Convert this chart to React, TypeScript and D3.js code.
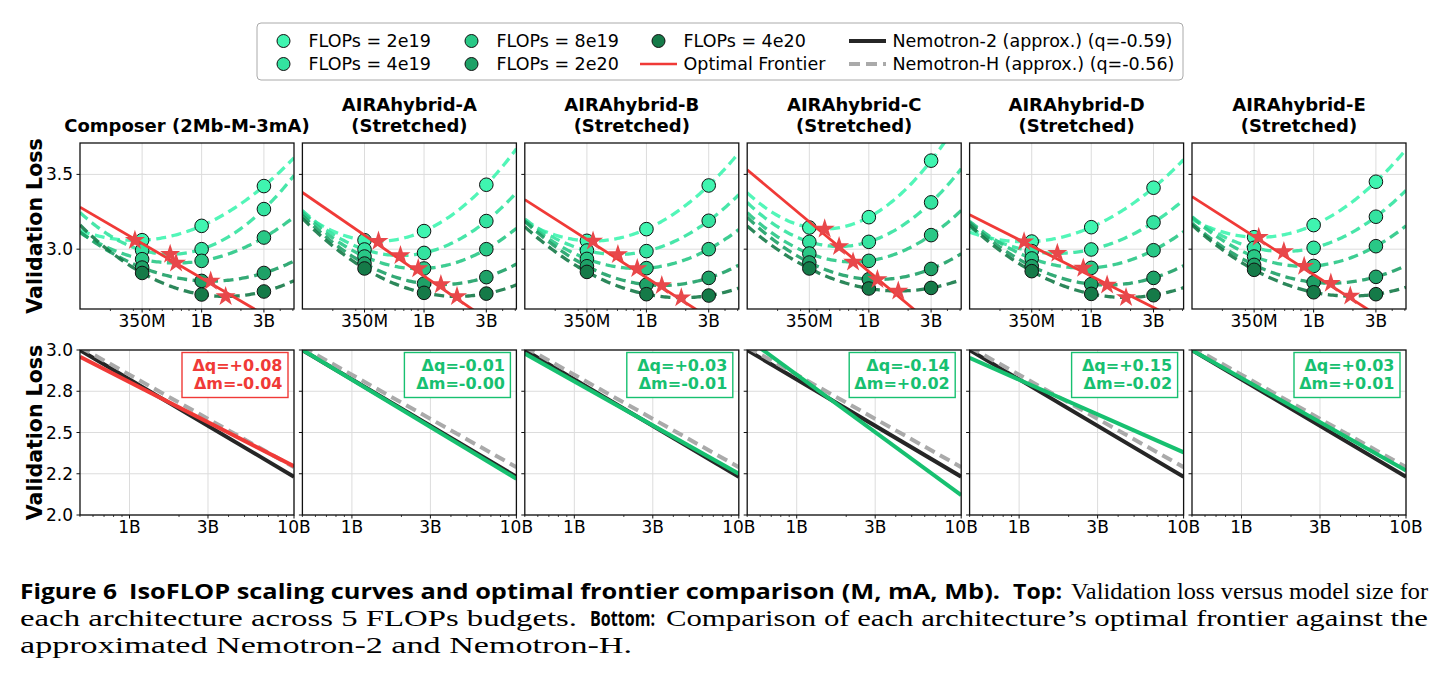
import React from "react";
import * as d3 from "d3";

// ---- data ----
const budgetLabels = ["FLOPs = 2e19", "FLOPs = 4e19", "FLOPs = 8e19", "FLOPs = 2e20", "FLOPs = 4e20"];
const budgetColors = ["#3ff5b0", "#34e3a0", "#29c886", "#1ea167", "#157a48"];
const modelSizes = [3.5e8, 1e9, 3e9];

const panelTitles = [
  ["Composer (2Mb-M-3mA)"],
  ["AIRAhybrid-A", "(Stretched)"],
  ["AIRAhybrid-B", "(Stretched)"],
  ["AIRAhybrid-C", "(Stretched)"],
  ["AIRAhybrid-D", "(Stretched)"],
  ["AIRAhybrid-E", "(Stretched)"],
];

// validation loss per budget (rows) at 350M, 1B, 3B (cols)
const composerLoss = [
  [3.06, 3.156, 3.422],
  [2.993, 3.0, 3.268],
  [2.933, 2.922, 3.078],
  [2.877, 2.788, 2.841],
  [2.841, 2.697, 2.717],
];
const hybridALoss = [
  [3.06, 3.121, 3.431],
  [2.998, 2.975, 3.188],
  [2.951, 2.871, 3.0],
  [2.904, 2.77, 2.813],
  [2.871, 2.708, 2.703],
];
const hybridBLoss = [
  [3.056, 3.134, 3.426],
  [2.991, 2.987, 3.19],
  [2.935, 2.873, 3.0],
  [2.886, 2.763, 2.808],
  [2.848, 2.699, 2.69],
];
const hybridCLoss = [
  [3.145, 3.214, 3.592],
  [3.049, 3.049, 3.313],
  [2.971, 2.922, 3.094],
  [2.911, 2.799, 2.868],
  [2.871, 2.737, 2.741],
];
const hybridDLoss = [
  [3.051, 3.147, 3.411],
  [2.987, 2.998, 3.179],
  [2.938, 2.875, 2.993],
  [2.886, 2.766, 2.808],
  [2.853, 2.701, 2.692],
];
const hybridELoss = [
  [3.08, 3.161, 3.451],
  [3.009, 3.009, 3.217],
  [2.951, 2.888, 3.02],
  [2.895, 2.779, 2.815],
  [2.862, 2.712, 2.699],
];
const panelLoss = [composerLoss, hybridALoss, hybridBLoss, hybridCLoss, hybridDLoss, hybridELoss];

// optimal frontier: loss = at1B + q * log10(N / 1B)
const frontierQ = [-0.51, -0.6, -0.56, -0.73, -0.44, -0.56];
const frontierAt1B = [2.806, 2.82, 2.81, 2.85, 2.82, 2.83];
const deltaQLabels = ["Δq=+0.08", "Δq=-0.01", "Δq=+0.03", "Δq=-0.14", "Δq=+0.15", "Δq=+0.03"];
const deltaMLabels = ["Δm=-0.04", "Δm=-0.00", "Δm=-0.01", "Δm=+0.02", "Δm=-0.02", "Δm=+0.01"];
const nemotron2 = { q: -0.59, at1B: 2.822 };
const nemotronH = { q: -0.56, at1B: 2.85 };

const topXTicks = [3.5e8, 1e9, 3e9];
const topXTickLabels = ["350M", "1B", "3B"];
const topYTicks = [3.0, 3.5];
const topYTickLabels = ["3.0", "3.5"];
const botXTicks = [1e9, 3e9, 1e10];
const botXTickLabels = ["1B", "3B", "10B"];
const botYTicks = [2.0, 2.25, 2.5, 2.75, 3.0];
const botYTickLabels = ["2.0", "2.2", "2.5", "2.8", "3.0"];

// ---- layout ----
const W = 1444;
const H = 683;
const PX0 = 80;
const PW = 214;
const STEP = 222.4;
const TOP_Y = 143;
const TH = 166;
const BOT_Y = 350;
const BH = 165;

const RED = "#f03a37";
const STAR = "#e8474a";
const GREEN = "#17c070";
const BLACK = "#262626";
const GRAY = "#aaaaaa";
const FONT = "DejaVu Sans";

const xTop = d3.scaleLog().domain([1.17e8, 5.1e9]).range([0, PW]);
const yTop = d3.scaleLinear().domain([2.6, 3.71]).range([TH, 0]);
const xBot = d3.scaleLog().domain([5e8, 1e10]).range([0, PW]);
const yBot = d3.scaleLinear().domain([2.0, 3.0]).range([BH, 0]);

// quadratic through the three points in log10(N)
function quadFit(us: number[], ys: number[]) {
  const s1 = (ys[1] - ys[0]) / (us[1] - us[0]);
  const s2 = (ys[2] - ys[1]) / (us[2] - us[1]);
  const a = (s2 - s1) / (us[2] - us[0]);
  const b = s1 - a * (us[0] + us[1]);
  const c = ys[0] - a * us[0] * us[0] - b * us[0];
  return { a, b, c };
}

function minorTicks(scale: d3.ScaleLogarithmic<number, number>, majors: number[]) {
  const [lo, hi] = scale.domain();
  const out: number[] = [];
  for (let k = 8; k <= 10; k++) {
    for (let m = 1; m <= 9; m++) {
      const v = m * Math.pow(10, k);
      if (v >= lo && v <= hi && !majors.some((t) => Math.abs(t - v) / v < 1e-6)) out.push(v);
    }
  }
  return out;
}

const topMinor = minorTicks(xTop, topXTicks);
const botMinor = minorTicks(xBot, botXTicks);

const uTop = xTop.domain().map(Math.log10);
const curveUs = d3.range(0, 121).map((k) => uTop[0] + ((uTop[1] - uTop[0]) * k) / 120);

const starPath = d3.symbol().type(d3.symbolStar).size(125)() as string;

const topLine = d3
  .line<[number, number]>()
  .x((d) => xTop(Math.pow(10, d[0])))
  .y((d) => yTop(d[1]));
const botLine = d3
  .line<[number, number]>()
  .x((d) => xBot(Math.pow(10, d[0])))
  .y((d) => yBot(d[1]));

function frontierPts(q: number, at1B: number, dom: number[]): [number, number][] {
  const u0 = Math.log10(dom[0]);
  const u1 = Math.log10(dom[1]);
  return [
    [u0, at1B + q * (u0 - 9)],
    [u1, at1B + q * (u1 - 9)],
  ];
}

const TopPanel = ({ i }: { i: number }) => {
  const px = PX0 + i * STEP;
  const us = modelSizes.map(Math.log10);
  const fits = panelLoss[i].map((row) => quadFit(us, row));
  return (
    <g transform={`translate(${px},${TOP_Y})`}>
      <defs>
        <clipPath id={`clipTop${i}`}>
          <rect x={0} y={0} width={PW} height={TH} />
        </clipPath>
      </defs>
      {topXTicks.map((t) => (
        <line key={t} x1={xTop(t)} x2={xTop(t)} y1={0} y2={TH} stroke="#dcdcdc" strokeWidth={1} />
      ))}
      {topYTicks.map((t) => (
        <line key={t} x1={0} x2={PW} y1={yTop(t)} y2={yTop(t)} stroke="#dcdcdc" strokeWidth={1} />
      ))}
      <g clipPath={`url(#clipTop${i})`}>
        {fits.map((f, b) => (
          <path
            key={b}
            d={topLine(curveUs.map((u) => [u, f.a * u * u + f.b * u + f.c]))!}
            fill="none"
            stroke={budgetColors[b]}
            strokeWidth={3.3}
            strokeDasharray="10,5.5"
            opacity={0.9}
          />
        ))}
        {panelLoss[i].map((row, b) =>
          row.map((v, k) => (
            <circle
              key={`${b}-${k}`}
              cx={xTop(modelSizes[k])}
              cy={yTop(v)}
              r={6.8}
              fill={budgetColors[b]}
              stroke="#111"
              strokeWidth={1}
            />
          ))
        )}
        <path
          d={topLine(frontierPts(frontierQ[i], frontierAt1B[i], xTop.domain()))!}
          stroke={RED}
          strokeWidth={2.8}
          fill="none"
        />
        {fits.map((f, b) => {
          const uv = -f.b / (2 * f.a);
          const lv = f.c - (f.b * f.b) / (4 * f.a);
          return (
            <path
              key={b}
              d={starPath}
              transform={`translate(${xTop(Math.pow(10, uv))},${yTop(lv)})`}
              fill={STAR}
            />
          );
        })}
      </g>
      <rect x={0} y={0} width={PW} height={TH} fill="none" stroke="#111" strokeWidth={1.3} />
      {topMinor.map((t) => (
        <line key={t} x1={xTop(t)} x2={xTop(t)} y1={TH} y2={TH + 2} stroke="#111" strokeWidth={0.8} />
      ))}
      {topXTicks.map((t, k) => (
        <g key={t}>
          <line x1={xTop(t)} x2={xTop(t)} y1={TH} y2={TH + 3.5} stroke="#111" strokeWidth={1} />
          <text x={xTop(t)} y={TH + 17.5} textAnchor="middle" fontFamily={FONT} fontSize={17}>
            {topXTickLabels[k]}
          </text>
        </g>
      ))}
      {topYTicks.map((t, k) => (
        <g key={t}>
          <line x1={-3.5} x2={0} y1={yTop(t)} y2={yTop(t)} stroke="#111" strokeWidth={1} />
          {i === 0 && (
            <text x={-7} y={yTop(t) + 6} textAnchor="end" fontFamily={FONT} fontSize={17}>
              {topYTickLabels[k]}
            </text>
          )}
        </g>
      ))}
      {panelTitles[i].length === 1 ? (
        <text x={PW / 2} y={-11} textAnchor="middle" fontFamily={FONT} fontWeight="bold" fontSize={18}>
          {panelTitles[i][0]}
        </text>
      ) : (
        <text textAnchor="middle" fontFamily={FONT} fontWeight="bold" fontSize={18}>
          <tspan x={PW / 2} y={-32}>
            {panelTitles[i][0]}
          </tspan>
          <tspan x={PW / 2} y={-11}>
            {panelTitles[i][1]}
          </tspan>
        </text>
      )}
    </g>
  );
};

const BottomPanel = ({ i }: { i: number }) => {
  const px = PX0 + i * STEP;
  const col = i === 0 ? RED : GREEN;
  return (
    <g transform={`translate(${px},${BOT_Y})`}>
      <defs>
        <clipPath id={`clipBot${i}`}>
          <rect x={0} y={0} width={PW} height={BH} />
        </clipPath>
      </defs>
      {botXTicks.map((t) => (
        <line key={t} x1={xBot(t)} x2={xBot(t)} y1={0} y2={BH} stroke="#dcdcdc" strokeWidth={1} />
      ))}
      {botYTicks.map((t) => (
        <line key={t} x1={0} x2={PW} y1={yBot(t)} y2={yBot(t)} stroke="#dcdcdc" strokeWidth={1} />
      ))}
      <g clipPath={`url(#clipBot${i})`}>
        <path
          d={botLine(frontierPts(nemotron2.q, nemotron2.at1B, xBot.domain()))!}
          stroke={BLACK}
          strokeWidth={4}
          fill="none"
        />
        <path
          d={botLine(frontierPts(nemotronH.q, nemotronH.at1B, xBot.domain()))!}
          stroke={GRAY}
          strokeWidth={4}
          strokeDasharray="11,6"
          fill="none"
        />
        <path
          d={botLine(frontierPts(frontierQ[i], frontierAt1B[i], xBot.domain()))!}
          stroke={col}
          strokeWidth={4}
          fill="none"
        />
      </g>
      <rect x={0} y={0} width={PW} height={BH} fill="none" stroke="#111" strokeWidth={1.3} />
      {botMinor.map((t) => (
        <line key={t} x1={xBot(t)} x2={xBot(t)} y1={BH} y2={BH + 2} stroke="#111" strokeWidth={0.8} />
      ))}
      {botXTicks.map((t, k) => (
        <g key={t}>
          <line x1={xBot(t)} x2={xBot(t)} y1={BH} y2={BH + 3.5} stroke="#111" strokeWidth={1} />
          <text x={xBot(t)} y={BH + 17.5} textAnchor="middle" fontFamily={FONT} fontSize={17}>
            {botXTickLabels[k]}
          </text>
        </g>
      ))}
      {botYTicks.map((t, k) => (
        <g key={t}>
          <line x1={-3.5} x2={0} y1={yBot(t)} y2={yBot(t)} stroke="#111" strokeWidth={1} />
          {i === 0 && (
            <text x={-7} y={yBot(t) + 6} textAnchor="end" fontFamily={FONT} fontSize={17}>
              {botYTickLabels[k]}
            </text>
          )}
        </g>
      ))}
      <rect x={PW - 112} y={2.5} width={106} height={45} fill="white" stroke={col} strokeWidth={1.4} />
      <text textAnchor="end" fontFamily={FONT} fontWeight="bold" fontSize={16} fill={col}>
        <tspan x={PW - 11.5} y={21}>
          {deltaQLabels[i]}
        </tspan>
        <tspan x={PW - 11.5} y={39}>
          {deltaMLabels[i]}
        </tspan>
      </text>
    </g>
  );
};

const legendItems = [
  ...budgetLabels.map((label, k) => ({ label, kind: "dot", color: budgetColors[k] })),
  { label: "Optimal Frontier", kind: "line", color: RED },
  { label: "Nemotron-2 (approx.) (q=-0.59)", kind: "line", color: BLACK },
  { label: "Nemotron-H (approx.) (q=-0.56)", kind: "dash", color: GRAY },
];
const legendColX = [265, 453, 640, 849];

const Legend = () => (
  <g>
    <rect x={257} y={23} width={926} height={57} rx={4} fill="white" stroke="#aaa" strokeWidth={1} />
    {legendItems.map((it, k) => {
      const x = legendColX[Math.floor(k / 2)];
      const y = k % 2 === 0 ? 41 : 64;
      return (
        <g key={it.label}>
          {it.kind === "dot" && (
            <circle cx={x + 18.5} cy={y} r={6.5} fill={it.color} stroke="#111" strokeWidth={1} />
          )}
          {it.kind === "line" && (
            <line x1={x} x2={x + 37} y1={y} y2={y} stroke={it.color} strokeWidth={it.color === RED ? 2.6 : 4} />
          )}
          {it.kind === "dash" && (
            <line x1={x} x2={x + 37} y1={y} y2={y} stroke={it.color} strokeWidth={4} strokeDasharray="11,6" />
          )}
          <text x={x + 43.5} y={y + 6} fontFamily={FONT} fontSize={17.5}>
            {it.label}
          </text>
        </g>
      );
    })}
  </g>
);

const SANS_B = "Open Sans";
const SERIF = "Liberation Serif";

const Caption = () => (
  <g>
    <text x={20} y={599} fontFamily={SANS_B} fontWeight="bold" fontSize={21} textLength={97} lengthAdjust="spacingAndGlyphs">
      Figure 6
    </text>
    <text x={129} y={599} fontFamily={SANS_B} fontWeight="bold" fontSize={21} textLength={871} lengthAdjust="spacingAndGlyphs">
      IsoFLOP scaling curves and optimal frontier comparison (M, mA, Mb).
    </text>
    <text x={1013} y={599} fontFamily={SANS_B} fontWeight="bold" fontSize={21} textLength={49} lengthAdjust="spacingAndGlyphs">
      Top:
    </text>
    <text x={1071} y={599} fontFamily={SERIF} fontSize={23} textLength={357} lengthAdjust="spacingAndGlyphs">
      Validation loss versus model size for
    </text>
    <text x={20} y={626} fontFamily={SERIF} fontSize={23} textLength={557} lengthAdjust="spacingAndGlyphs">
      each architecture across 5 FLOPs budgets.
    </text>
    <text x={590} y={626} fontFamily={SANS_B} fontWeight="bold" fontSize={21} textLength={65} lengthAdjust="spacingAndGlyphs">
      Bottom:
    </text>
    <text x={666} y={626} fontFamily={SERIF} fontSize={23} textLength={762} lengthAdjust="spacingAndGlyphs">
      Comparison of each architecture’s optimal frontier against the
    </text>
    <text x={20} y={653} fontFamily={SERIF} fontSize={23} textLength={612} lengthAdjust="spacingAndGlyphs">
      approximated Nemotron-2 and Nemotron-H.
    </text>
  </g>
);

export default function App() {
  return (
    <svg
      width={W}
      height={H}
      viewBox={`0 0 ${W} ${H}`}
      style={{ display: "block", background: "white", position: "absolute", left: 0, top: 0 }}
    >
      <Legend />
      {d3.range(6).map((i) => (
        <TopPanel key={`t${i}`} i={i} />
      ))}
      {d3.range(6).map((i) => (
        <BottomPanel key={`b${i}`} i={i} />
      ))}
      <text
        transform={`translate(41.5,${TOP_Y + TH / 2}) rotate(-90)`}
        textAnchor="middle"
        fontFamily={FONT}
        fontWeight="bold"
        fontSize={20.5}
      >
        Validation Loss
      </text>
      <text
        transform={`translate(41.5,${BOT_Y + BH / 2}) rotate(-90)`}
        textAnchor="middle"
        fontFamily={FONT}
        fontWeight="bold"
        fontSize={20.5}
      >
        Validation Loss
      </text>
      <Caption />
    </svg>
  );
}
